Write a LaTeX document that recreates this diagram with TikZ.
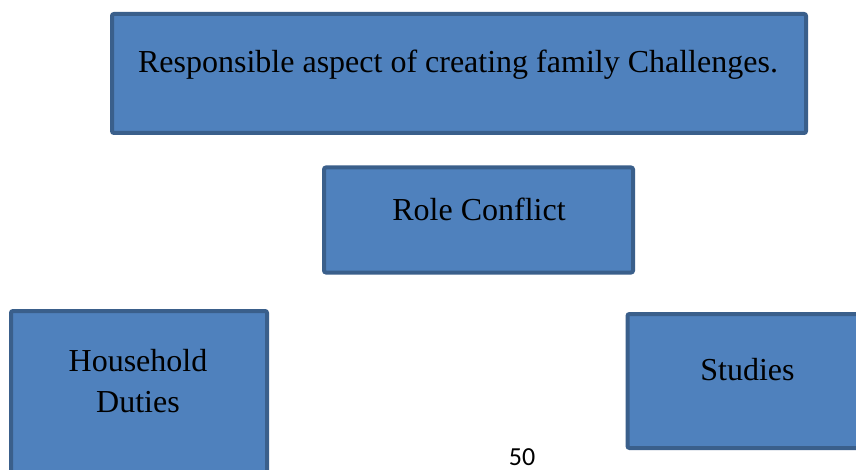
\documentclass[tikz,border=0pt]{standalone}
\usepackage{fontspec}
\setmainfont{Liberation Serif}
\newfontfamily\pagenumfont{Carlito}
\definecolor{boxfill}{HTML}{4F81BD}
\definecolor{boxline}{HTML}{3A5F8B}
\tikzset{
  blockbox/.style={draw=boxline, fill=boxfill, line width=4pt, rounded corners=2pt,
    inner sep=0pt, rectangle},
  boxtext/.style={font=\fontsize{32}{41}\selectfont, text=black, inner sep=0pt}
}
\begin{document}
\begin{tikzpicture}[x=1pt,y=-1pt]
\useasboundingbox (0,0) rectangle (856,470);
\clip (0,0) rectangle (856,470);
\fill[white] (0,0) rectangle (856,470);

% top block
\node[blockbox, minimum width=694pt, minimum height=119pt] (top) at (459,73.5) {};
\node[boxtext, anchor=base] (toptext) at (458,73) {Responsible aspect of creating family Challenges.};

% middle block
\node[blockbox, minimum width=309pt, minimum height=105pt] (role) at (478.5,220) {};
\node[boxtext, anchor=base] (roletext) at (479,221) {Role Conflict};

% lower left block (runs past the bottom edge)
\node[blockbox, minimum width=256pt, minimum height=196pt] (house) at (139,409) {};
\node[boxtext, anchor=base] (housetext1) at (138,371) {Household};
\node[boxtext, anchor=base] (housetext2) at (138,412) {Duties};

% lower right block (runs past the right edge)
\node[blockbox, minimum width=239pt, minimum height=134pt] (studies) at (747,381) {};
\node[boxtext, anchor=base] (studiestext) at (747.5,380) {Studies};

% page number
\node[font=\pagenumfont\fontsize{26}{30}\selectfont, anchor=base, inner sep=0pt] (pagenum) at (522,465.5) {50};
\end{tikzpicture}
\end{document}
